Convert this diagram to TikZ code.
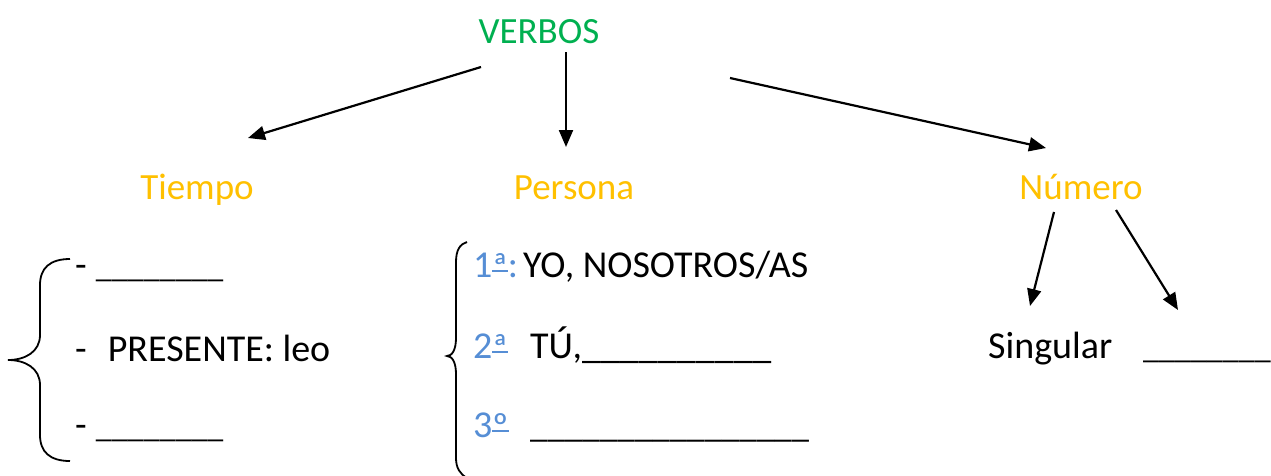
\documentclass[tikz,border=0pt]{standalone}
\usepackage{fontspec}
\setmainfont{Carlito}
\usetikzlibrary{arrows.meta}
\definecolor{vgreen}{HTML}{00B050}
\definecolor{vorange}{HTML}{FFC000}
\definecolor{vblue}{RGB}{86,142,213}
\newsavebox{\ordbox}
\newcommand{\ordu}[1]{\sbox{\ordbox}{#1}\rlap{\raisebox{-2.5pt}{\usebox{\ordbox}}}\raisebox{5.5pt}{\rule{\wd\ordbox}{1.7pt}}}
\begin{document}
\begin{tikzpicture}[x=1pt,y=-1pt,
  txt/.style={inner sep=0pt,anchor=base west,font=\fontsize{38}{46}\selectfont},
  head/.style={inner sep=0pt,anchor=base,font=\fontsize{37}{44}\selectfont},
  arr/.style={line width=2.2pt,-{Triangle[length=17pt,width=14pt]}},
  brace/.style={line width=1.8pt}]
\useasboundingbox (0,0) rectangle (1271,475);
% headings
\node[head,text=vgreen] (verbos) at (539,43) {VERBOS};
\node[head,text=vorange] (tiempo) at (197,199) {Tiempo};
\node[head,text=vorange] (persona) at (574,199) {Persona};
\node[head,text=vorange] (numero) at (1081,199) {Número};
% arrow ends
\coordinate (a1s) at (481,67);  \coordinate (a1e) at (248,138);
\coordinate (a2s) at (566,52);  \coordinate (a2e) at (566,147);
\coordinate (a3s) at (730,78);  \coordinate (a3e) at (1046,148);
\coordinate (a4s) at (1054,212); \coordinate (a4e) at (1030,306);
\coordinate (a5s) at (1116,210); \coordinate (a5e) at (1178,310);
\draw[arr] (a1s) -- (a1e);
\draw[arr] (a2s) -- (a2e);
\draw[arr] (a3s) -- (a3e);
\draw[arr] (a4s) -- (a4e);
\draw[arr] (a5s) -- (a5e);
% Tiempo list
\node[txt] (t1) at (75,277) {-\hspace{9pt}{\fontsize{32}{40}\selectfont\_\_\_\_\_\_\_\_}};
\node[txt] (t2) at (75,361) {-\hspace{21pt}PRESENTE: leo};
\node[txt] (t3) at (75,437) {-\hspace{9pt}{\fontsize{32}{40}\selectfont\_\_\_\_\_\_\_\_}};
\draw[brace] (70,259) .. controls (50,259) and (40,268) .. (40,285) -- (40,335)
  .. controls (40,352) and (25,360) .. (8,360)
  .. controls (25,360) and (40,368) .. (40,385) -- (40,435)
  .. controls (40,452) and (50,461) .. (70,461);
% Persona list
\node[txt,text=vblue] (p1n) at (473,277) {1\ordu{ª}:};
\node[txt] (p1) at (523,277) {YO, NOSOTROS/AS};
\node[txt,text=vblue] (p2n) at (473,358) {2\ordu{ª}};
\node[txt] (p2) at (530,358) {TÚ,\_\_\_\_\_\_\_\_\_\_};
\node[txt,text=vblue] (p3n) at (473,437) {3\ordu{º}};
\node[txt] (p3) at (530,437) {{\fontsize{35}{42}\selectfont\_\_\_\_\_\_\_\_\_\_\_\_\_\_\_\_}};
\draw[brace] (467,242) .. controls (460,244) and (456,250) .. (456,262) -- (456,338)
  .. controls (456,350) and (452,356) .. (447,356)
  .. controls (452,356) and (456,362) .. (456,374) -- (456,458)
  .. controls (456,468) and (460,474) .. (467,478);
% Numero list
\node[txt] (sing) at (988,358) {Singular};
\node[txt] (plur) at (1143,358) {{\fontsize{32}{40}\selectfont\_\_\_\_\_\_\_\_}};
\end{tikzpicture}
\end{document}
